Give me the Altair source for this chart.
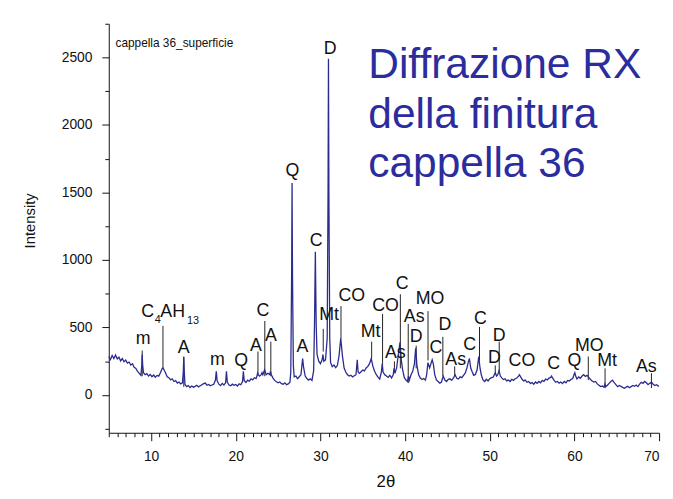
import altair as alt
import pandas as pd

# ---------------- data ----------------
two_theta = [
    5.0, 5.2, 5.4, 5.6, 5.8, 6.0, 6.2, 6.4, 6.6, 6.8,
    7.0, 7.2, 7.4, 7.6, 7.8, 8.0, 8.2, 8.4, 8.6, 8.8,
    8.9, 8.95, 9.0, 9.1, 9.3, 9.5, 9.7, 9.9, 10.1, 10.3,
    10.5, 10.7, 10.9, 11.1, 11.3, 11.4, 11.5, 11.7, 11.9, 12.1,
    12.3, 12.5, 12.7, 12.9, 13.1, 13.3, 13.5, 13.7, 13.8, 13.86,
    13.92, 14.0, 14.2, 14.4, 14.6, 14.8, 15.0, 15.2, 15.4, 15.6,
    15.8, 16.0, 16.2, 16.4, 16.6, 16.8, 17.0, 17.2, 17.4, 17.6,
    17.7, 17.8, 18.0, 18.2, 18.4, 18.6, 18.8, 18.9, 19.0, 19.2,
    19.4, 19.6, 19.8, 20.0, 20.2, 20.4, 20.6, 20.8, 20.9, 21.0,
    21.2, 21.4, 21.6, 21.8, 22.0, 22.2, 22.4, 22.55, 22.6, 22.65,
    22.8, 23.0, 23.1, 23.2, 23.4, 23.6, 23.8, 24.0, 24.1, 24.2,
    24.4, 24.6, 24.8, 25.0, 25.2, 25.4, 25.6, 25.8, 26.0, 26.2,
    26.4, 26.5, 26.6, 26.65, 26.7, 26.8, 26.9, 27.1, 27.3, 27.5,
    27.7, 27.8, 27.9, 28.0, 28.2, 28.4, 28.6, 28.8, 29.0, 29.2,
    29.3, 29.4, 29.5, 29.6, 29.8, 30.0, 30.2, 30.3, 30.4, 30.6,
    30.8, 30.9, 30.95, 31.0, 31.1, 31.2, 31.4, 31.6, 31.8, 32.0,
    32.2, 32.4, 32.6, 32.8, 33.0, 33.2, 33.4, 33.6, 33.8, 34.0,
    34.2, 34.35, 34.45, 34.6, 34.8, 35.0, 35.2, 35.4, 35.6, 35.8,
    36.0, 36.2, 36.4, 36.6, 36.8, 37.0, 37.2, 37.3, 37.4, 37.6,
    37.8, 38.0, 38.2, 38.4, 38.6, 38.7, 38.8, 39.0, 39.2, 39.4,
    39.55, 39.7, 39.9, 40.1, 40.3, 40.4, 40.5, 40.7, 40.9, 41.1,
    41.25, 41.4, 41.6, 41.8, 42.0, 42.2, 42.4, 42.55, 42.7, 42.9,
    43.05, 43.2, 43.35, 43.5, 43.7, 43.9, 44.1, 44.3, 44.5, 44.7,
    44.9, 45.1, 45.3, 45.5, 45.7, 45.9, 46.1, 46.3, 46.5, 46.7,
    46.9, 47.1, 47.3, 47.45, 47.6, 47.75, 47.9, 48.1, 48.3, 48.5,
    48.7, 48.85, 49.0, 49.2, 49.4, 49.6, 49.8, 50.0, 50.2, 50.4,
    50.65, 50.8, 50.95, 51.1, 51.25, 51.4, 51.6, 51.8, 52.0, 52.2,
    52.4, 52.6, 52.8, 53.0, 53.2, 53.4, 53.5, 53.6, 53.8, 54.0,
    54.2, 54.4, 54.6, 54.8, 55.0, 55.2, 55.4, 55.6, 55.8, 56.0,
    56.2, 56.4, 56.6, 56.8, 57.0, 57.2, 57.3, 57.4, 57.6, 57.8,
    58.0, 58.2, 58.4, 58.6, 58.8, 59.0, 59.2, 59.4, 59.6, 59.8,
    59.95, 60.05, 60.15, 60.3, 60.5, 60.7, 60.9, 61.1, 61.3, 61.5,
    61.7, 61.9, 62.1, 62.3, 62.5, 62.7, 62.9, 63.1, 63.3, 63.5,
    63.6, 63.7, 63.9, 64.1, 64.3, 64.5, 64.7, 64.9, 65.1, 65.3,
    65.5, 65.7, 65.9, 66.1, 66.3, 66.5, 66.7, 66.9, 67.1, 67.3,
    67.5, 67.7, 67.9, 68.1, 68.3, 68.5, 68.7, 68.9, 69.1, 69.3,
    69.5, 69.7, 69.9, 70.0,
]
intensity = [
    285, 262, 292, 270, 296, 268, 280, 252, 270, 246,
    258, 236, 244, 222, 232, 205, 196, 175, 160, 145,
    220, 300, 225, 165, 150, 158, 140, 152, 135, 148,
    132, 145, 140, 165, 195, 200, 190, 165, 135, 128,
    112, 120, 100, 106, 88, 96, 82, 90, 170, 280,
    170, 78, 62, 70, 55, 66, 58, 64, 72, 60,
    68, 76, 84, 88, 72, 78, 68, 74, 80, 110,
    175, 105, 80, 70, 86, 74, 90, 175, 95, 74,
    68, 80, 72, 78, 66, 82, 76, 100, 175, 105,
    92, 110, 102, 120, 112, 128, 122, 150, 175, 150,
    140, 150, 165, 150, 185, 150, 160, 150, 175, 150,
    125, 108, 98, 90, 96, 84, 80, 90, 76, 82,
    95, 170, 900, 1570, 900, 220, 135, 140, 120, 135,
    150, 210, 270, 210, 140, 122, 110, 120, 108, 180,
    520, 1060, 520, 300, 250, 232, 260, 300, 250, 260,
    420, 1500, 2490, 1500, 420, 240, 210, 222, 202, 218,
    290, 420, 290, 200, 168, 150, 140, 146, 134, 142,
    150, 260, 170, 160, 172, 184, 178, 200, 212, 232,
    270, 212, 176, 150, 132, 118, 170, 230, 170, 150,
    140, 130, 146, 126, 150, 200, 160, 200, 300, 390,
    260, 190, 130, 110, 100, 140, 110, 150, 175, 230,
    345, 220, 150, 125, 115, 122, 110, 150, 240, 200,
    230, 260, 225, 150, 112, 100, 88, 96, 140, 110,
    100, 116, 120, 108, 124, 150, 124, 118, 134, 128,
    146, 162, 200, 240, 270, 200, 175, 146, 152, 185,
    285, 200, 150, 112, 100, 116, 104, 120, 128, 132,
    165, 140, 150, 180, 140, 128, 114, 120, 104, 110,
    100, 116, 108, 120, 126, 140, 150, 140, 118, 104,
    110, 94, 100, 86, 92, 80, 96, 86, 100, 90,
    108, 100, 118, 112, 125, 130, 140, 128, 108, 94,
    100, 88, 96, 84, 100, 90, 108, 104, 116, 122,
    150, 165, 140, 118, 134, 124, 140, 150, 138, 145,
    130, 115, 104, 96, 100, 82, 72, 62, 66, 58,
    80, 62, 72, 86, 100, 110, 92, 76, 62, 70,
    64, 56, 50, 58, 64, 54, 62, 70, 64, 74,
    62, 80, 94, 86, 100, 90, 76, 86, 95, 80,
    70, 76, 66, 68,
]

# phase labels (text centre, data units)
label_text = ["m", "A", "m", "Q", "A", "C", "A", "Q", "A", "C", "Mt", "D",
              "CO", "Mt", "CO", "As", "C", "As", "D", "MO", "C", "D", "As",
              "C", "C", "D", "D", "CO", "C", "Q", "MO", "Mt", "As",
              "C", "AH"]
label_x = [9.07, 13.86, 17.83, 20.63, 22.38, 23.2, 24.14, 26.7, 27.87, 29.5,
           31.03, 31.14, 33.7, 35.93, 37.69, 38.85, 39.67, 41.07, 41.31, 42.94,
           43.64, 44.7, 45.98, 47.62, 48.9, 50.54, 51.12, 53.8, 57.55, 60.0,
           61.75, 63.85, 68.5, 9.6, 12.55]
label_y = [417, 344, 256, 249, 366, 621, 439, 1659, 358, 1140,
           592, 2566, 731, 468, 658, 307, 819, 577, 431, 709,
           351, 519, 256, 373, 563, 270, 439, 249, 227, 249,
           365, 249, 205, 614, 614]

# subscripts of C4AH13
sub_text = ["4", "13"]
sub_x = [10.78, 14.95]
sub_y = [556, 548]

# leader lines under labels
rule_x = [8.95, 11.4, 13.86, 22.62, 23.43, 24.14, 30.33, 32.43, 36.05, 37.34,
          38.74, 39.44, 40.37, 41.31, 42.71, 44.46, 45.86, 48.79, 50.65, 51.12,
          61.64, 63.62, 69.1]
rule_top = [329, 512, 285, 322, 548, 395, 490, 658, 395, 600,
            249, 746, 526, 365, 621, 431, 212, 504, 219, 395,
            285, 197, 161]
rule_bottom = [140, 197, 60, 175, 139, 139, 322, 417, 270, 219,
               197, 197, 88, 197, 256, 139, 146, 256, 161, 175,
               110, 51, 51]

x_major = [10, 20, 30, 40, 50, 60, 70]
x_minor = [v for v in range(5, 70) if v % 10 != 0]
y_major = [0, 500, 1000, 1500, 2000, 2500]
y_minor = [-250, 250, 750, 1250, 1750, 2250, 2750]

sample_name = ["cappella 36_superficie"]
sample_x = [5.79]
sample_y = [2610]

heading = ["Diffrazione RX", "della finitura", "cappella 36"]
heading_x = [35.65, 35.65, 35.65]
heading_y = [2347, 1981, 1616]

# ---------------- chart ----------------
FONT = "Liberation Sans"
W, H = 557, 414
xs = alt.Scale(domain=[5, 70], nice=False, zero=False)
ys = alt.Scale(domain=[-280, 2750], nice=False, zero=False)

spec = pd.DataFrame({"t": two_theta, "i": intensity})
labels = pd.DataFrame({"txt": label_text, "x": label_x, "y": label_y})
subs = pd.DataFrame({"txt": sub_text, "x": sub_x, "y": sub_y})
rules = pd.DataFrame({"x": rule_x, "y1": rule_top, "y2": rule_bottom})
sample = pd.DataFrame({"txt": sample_name, "x": sample_x, "y": sample_y})
head = pd.DataFrame({"txt": heading, "x": heading_x, "y": heading_y})

axis_common = dict(domainColor="#111111", tickColor="#111111", labelColor="#111111",
                   labelFont=FONT, titleFont=FONT, grid=False, domainWidth=1, tickWidth=1)

line = alt.Chart(spec).mark_line(color="#2a2b8e", strokeWidth=1.3).encode(
    x=alt.X("t:Q", scale=xs, axis=alt.Axis(
        orient="bottom", values=x_major, tickSize=8, labelFontSize=14, labelPadding=9,
        format="d",
        title="2θ", titleFontSize=17, titleFontWeight="normal", titleColor="#111111",
        titleX=280, titleY=49, titleBaseline="middle", titleAlign="center",
        **axis_common)),
    y=alt.Y("i:Q", scale=ys, axis=alt.Axis(
        orient="left", values=y_major, tickSize=7, labelFontSize=14, labelPadding=10,
        format="d",
        title="Intensity", titleFontSize=15, titleFontWeight="normal", titleColor="#111111",
        titleX=-80, titleY=199, titleAngle=270, titleBaseline="middle", titleAlign="center",
        **axis_common)),
)

minor = alt.Chart(spec).mark_point(opacity=0).encode(
    x=alt.X("t:Q", scale=xs, axis=alt.Axis(
        orient="bottom", values=x_minor, tickSize=4, labels=False, domain=False,
        title=None, **axis_common)),
    y=alt.Y("i:Q", scale=ys, axis=alt.Axis(
        orient="left", values=y_minor, tickSize=4, labels=False, domain=False,
        title=None, **axis_common)),
)

leader = alt.Chart(rules).mark_rule(color="#222222", strokeWidth=1).encode(
    x=alt.X("x:Q", scale=xs, axis=None),
    y=alt.Y("y1:Q", scale=ys, axis=None),
    y2="y2:Q",
)

lab = alt.Chart(labels).mark_text(font=FONT, fontSize=18, color="#111111",
                                  align="center", baseline="middle").encode(
    x=alt.X("x:Q", scale=xs, axis=None),
    y=alt.Y("y:Q", scale=ys, axis=None),
    text="txt:N",
)

sub = alt.Chart(subs).mark_text(font=FONT, fontSize=11, color="#111111",
                                align="center", baseline="middle").encode(
    x=alt.X("x:Q", scale=xs, axis=None),
    y=alt.Y("y:Q", scale=ys, axis=None),
    text="txt:N",
)

samp = alt.Chart(sample).mark_text(font=FONT, fontSize=12, color="#111111",
                                   align="left", baseline="middle").encode(
    x=alt.X("x:Q", scale=xs, axis=None),
    y=alt.Y("y:Q", scale=ys, axis=None),
    text="txt:N",
)

hd = alt.Chart(head).mark_text(font=FONT, fontSize=43, color="#2b2d9e",
                               align="left", baseline="alphabetic").encode(
    x=alt.X("x:Q", scale=xs, axis=None),
    y=alt.Y("y:Q", scale=ys, axis=None),
    text="txt:N",
)

chart = alt.layer(minor, leader, line, lab, sub, samp, hd).resolve_axis(
    x="independent", y="independent"
).properties(
    width=W, height=H,
    autosize=alt.AutoSizeParams(type="none"),
    padding={"left": 102, "top": 13, "right": 6, "bottom": 56},
    background="white",
).configure_view(strokeOpacity=0)

chart.save("out.html", embed_options={"renderer": "svg", "actions": False})
